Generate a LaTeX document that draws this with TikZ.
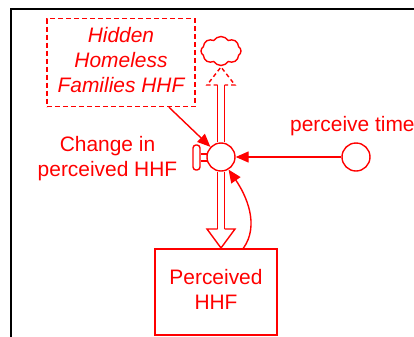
\documentclass[tikz,border=0pt]{standalone}
\usepackage{fontspec}
\setmainfont{Liberation Sans}
\usetikzlibrary{arrows.meta,shapes.symbols}
\begin{document}
\begin{tikzpicture}[x=1bp,y=-1bp,
  sd/.style={draw=red, line width=1.4bp},
  txt/.style={text=red, font=\fontsize{21}{25.5}\selectfont, inner sep=0pt, align=center},
  link/.style={red, line width=1.4bp, -{Triangle[length=13bp,width=11bp]}},
  pipe/.style={red, line width=1.4bp},
  tailedge/.style={red, line width=1.4bp, dash pattern=on 4bp off 3bp}
]
\useasboundingbox (0,0) rectangle (414,337);
% frame
\draw[black, line width=2bp] (11,360) -- (11,9) -- (440,9);

% cloud (source) and the external stock
\node[txt, sd, dash pattern=on 5bp off 3bp, minimum width=148bp, minimum height=88bp,
      font=\fontsize{21}{25.5}\selectfont\itshape] (hidden) at (121,62.5)
      {\strut Hidden\\Homeless\\Families HHF\strut};
\node[cloud, cloud puffs=8, cloud puff arc=115, aspect=1.4, sd, minimum width=40bp,
      minimum height=29bp, inner sep=0pt] (source) at (221,51) {};

% flow valve with its handle
\node[circle, sd, minimum size=28bp, inner sep=0pt] (valve) at (221,157) {};
\node[sd, rounded corners=3bp, minimum width=7bp, minimum height=25bp, inner sep=0pt]
      (handle) at (196.5,157.5) {};
\draw[pipe] ([yshift=3.5bp]handle.east) -- ++(7.5,0)
            ([yshift=-3.5bp]handle.east) -- ++(7.5,0);
\node[txt, anchor=center] (flowlabel) at (107.5,158.9) {\strut Change in\\perceived HHF\strut};

% converter
\node[circle, sd, minimum size=28bp, inner sep=0pt] (conv) at (356,157) {};
\node[txt, anchor=base west] (convlabel) at (290,131) {perceive time};

% stock
\node[txt, sd, minimum width=122bp, minimum height=86bp] (stock) at (216,292)
      {\strut Perceived\\HHF\strut};

% pipe: tail from the cloud, head into the stock
\coordinate (tailtip) at (221,67);
\coordinate (tailbase) at (221,85);
\coordinate (headbase) at (221,229);
\coordinate (headtip) at (221,248);
\draw[tailedge] ([xshift=-3.5bp]tailbase) -- ++(-10.5,0) -- (tailtip)
      -- ([xshift=14bp]tailbase) -- ([xshift=3.5bp]tailbase);
\draw[pipe] ([xshift=-3.5bp]tailbase) -- ([xshift=-3.5bp]tailbase |- valve.north)
            ([xshift=3.5bp]tailbase) -- ([xshift=3.5bp]tailbase |- valve.north);
\draw[pipe] ([xshift=-3.5bp]headbase |- valve.south) -- ([xshift=-3.5bp]headbase)
            ([xshift=3.5bp]headbase |- valve.south) -- ([xshift=3.5bp]headbase);
\draw[pipe, line join=miter] ([xshift=-3.5bp]headbase) -- ++(-10.5,0) -- (headtip)
      -- ([xshift=14bp]headbase) -- ([xshift=3.5bp]headbase);

% information links
\draw[link] (hidden.-43) -- (valve);
\draw[link] (conv) -- (valve);
\draw[link] (stock.58) .. controls (260,225) and (246,195) .. (valve.-59);
\end{tikzpicture}
\end{document}
